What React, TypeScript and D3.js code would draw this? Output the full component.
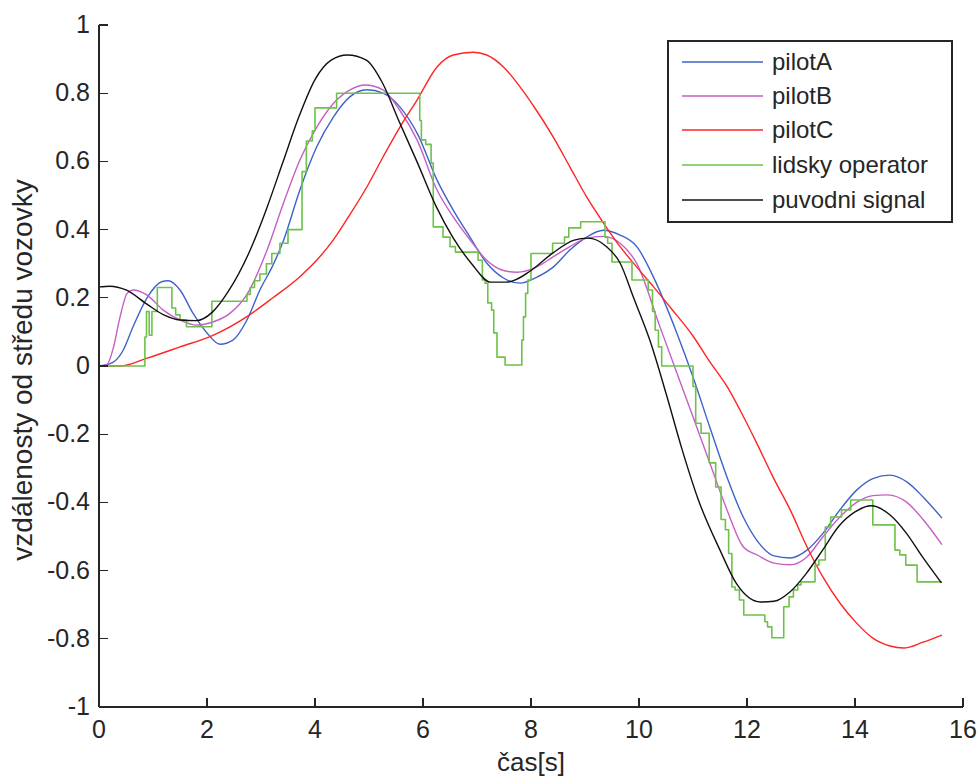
import React from "react";
import * as d3 from "d3";

const xTicks = [0, 2, 4, 6, 8, 10, 12, 14, 16];
const yTicks = [-1, -0.8, -0.6, -0.4, -0.2, 0, 0.2, 0.4, 0.6, 0.8, 1];
const yTickLabels = ["-1", "-0.8", "-0.6", "-0.4", "-0.2", "0", "0.2", "0.4", "0.6", "0.8", "1"];

const seriesNames = ["pilotA", "pilotB", "pilotC", "lidsky operator", "puvodni signal"];
const seriesColors = ["#3f62c8", "#c45fc4", "#ff2424", "#6cc24a", "#111111"];

const pilotA_t = [0, 0.25, 0.45, 0.63, 0.89, 1.16, 1.28, 1.5, 1.74, 2.0, 2.24, 2.48, 2.74, 2.98, 3.22, 3.41, 3.72, 4.03, 4.34, 4.65, 4.96, 5.26, 5.57, 5.9, 6.26, 6.56, 6.87, 7.18, 7.49, 7.8, 8.1, 8.41, 8.72, 9.03, 9.34, 9.65, 9.96, 10.27, 10.7, 11.0, 11.31, 11.63, 11.93, 12.2, 12.5, 12.8, 13.11, 13.41, 13.72, 14.03, 14.33, 14.65, 14.96, 15.26, 15.61];
const pilotA_v = [0, 0.01, 0.047, 0.115, 0.2, 0.247, 0.25, 0.223, 0.155, 0.097, 0.064, 0.076, 0.135, 0.223, 0.295, 0.365, 0.516, 0.642, 0.73, 0.79, 0.81, 0.8, 0.76, 0.68, 0.545, 0.457, 0.378, 0.302, 0.258, 0.243, 0.26, 0.29, 0.34, 0.378, 0.398, 0.384, 0.35, 0.26, 0.097, -0.032, -0.179, -0.326, -0.443, -0.515, -0.557, -0.563, -0.54, -0.49, -0.422, -0.364, -0.33, -0.32, -0.34, -0.384, -0.446];

const pilotB_t = [0, 0.15, 0.27, 0.39, 0.52, 0.63, 0.89, 1.19, 1.5, 1.81, 2.11, 2.43, 2.74, 3.1, 3.41, 3.72, 4.03, 4.34, 4.65, 4.93, 5.26, 5.57, 5.89, 6.26, 6.56, 6.87, 7.18, 7.49, 7.74, 8.1, 8.41, 8.72, 9.03, 9.34, 9.65, 9.96, 10.39, 10.7, 11.0, 11.31, 11.63, 11.93, 12.2, 12.5, 12.8, 13.11, 13.41, 13.72, 14.03, 14.33, 14.6, 14.96, 15.26, 15.61];
const pilotB_v = [0, 0.005, 0.056, 0.144, 0.213, 0.223, 0.208, 0.164, 0.135, 0.12, 0.129, 0.155, 0.21, 0.335, 0.475, 0.604, 0.7, 0.77, 0.81, 0.824, 0.81, 0.75, 0.663, 0.516, 0.437, 0.37, 0.31, 0.28, 0.275, 0.29, 0.32, 0.35, 0.375, 0.38, 0.36, 0.3, 0.114, -0.02, -0.149, -0.284, -0.422, -0.53, -0.555, -0.578, -0.583, -0.56, -0.5, -0.443, -0.4, -0.38, -0.378, -0.4, -0.45, -0.524];

const pilotC_t = [0, 0.4, 0.89, 1.5, 2.11, 2.74, 3.22, 3.72, 4.03, 4.34, 4.65, 4.96, 5.26, 5.57, 5.89, 6.26, 6.56, 6.93, 7.18, 7.49, 7.8, 8.1, 8.41, 8.72, 9.03, 9.34, 9.65, 9.96, 10.27, 10.6, 11.0, 11.3, 11.63, 11.87, 12.18, 12.48, 12.8, 13.11, 13.41, 13.72, 14.03, 14.33, 14.65, 14.9, 15.26, 15.61];
const pilotC_v = [0, 0.0, 0.023, 0.056, 0.09, 0.145, 0.2, 0.262, 0.31, 0.37, 0.445, 0.525, 0.613, 0.7, 0.78, 0.877, 0.912, 0.92, 0.912, 0.877, 0.818, 0.75, 0.672, 0.584, 0.496, 0.42, 0.35, 0.29, 0.232, 0.168, 0.088, 0.015, -0.06, -0.129, -0.226, -0.325, -0.422, -0.53, -0.62, -0.695, -0.754, -0.798, -0.821, -0.827, -0.81, -0.789];

const operator_t = [0, 0.85, 0.88, 0.93, 0.98, 1.08, 1.35, 1.42, 1.5, 1.62, 2.09, 2.74, 2.8, 2.88, 2.98, 3.1, 3.2, 3.35, 3.5, 3.76, 3.84, 3.95, 4.0, 4.4, 5.94, 5.97, 6.05, 6.15, 6.19, 6.37, 6.5, 6.6, 7.02, 7.1, 7.15, 7.2, 7.27, 7.31, 7.37, 7.52, 7.83, 7.86, 7.9, 7.94, 8.0, 8.4, 8.62, 8.7, 8.92, 9.37, 9.42, 9.5, 9.87, 10.17, 10.25, 10.3, 10.36, 10.42, 11.0, 11.05, 11.15, 11.3, 11.42, 11.52, 11.6, 11.66, 11.72, 11.78, 11.86, 11.94, 12.33, 12.38, 12.46, 12.68, 12.78, 12.86, 12.94, 13.0, 13.26, 13.33, 13.45, 13.55, 13.75, 13.92, 14.33, 14.74, 14.83, 14.94, 15.15, 15.61];
const operator_v = [0, 0.085, 0.16, 0.09, 0.16, 0.23, 0.17, 0.15, 0.135, 0.115, 0.19, 0.21, 0.23, 0.25, 0.27, 0.3, 0.33, 0.36, 0.4, 0.57, 0.66, 0.69, 0.757, 0.8, 0.72, 0.663, 0.65, 0.595, 0.408, 0.378, 0.35, 0.334, 0.31, 0.252, 0.243, 0.185, 0.164, 0.097, 0.026, 0.003, 0.076, 0.144, 0.213, 0.252, 0.33, 0.36, 0.378, 0.405, 0.423, 0.378, 0.36, 0.305, 0.252, 0.223, 0.16, 0.105, 0.056, 0.0, -0.06, -0.168, -0.197, -0.284, -0.355, -0.45, -0.48, -0.55, -0.648, -0.657, -0.686, -0.73, -0.75, -0.765, -0.797, -0.706, -0.677, -0.657, -0.642, -0.633, -0.584, -0.569, -0.472, -0.443, -0.422, -0.393, -0.466, -0.54, -0.554, -0.584, -0.633, -0.633];

const signal_t = [0, 0.2, 0.5, 0.9, 1.2, 1.5, 1.8, 2.1, 2.4, 2.8, 3.1, 3.4, 3.7, 4.0, 4.3, 4.6, 4.95, 5.25, 5.55, 5.9, 6.25, 6.55, 6.9, 7.25, 7.55, 8.0, 8.4, 8.8, 9.05, 9.4, 9.65, 9.9, 10.2, 10.5, 10.8, 11.1, 11.5, 11.8, 12.25, 12.5, 12.8, 13.1, 13.4, 13.7, 14.0, 14.3, 14.65, 14.95, 15.25, 15.6];
const signal_v = [0.232, 0.234, 0.223, 0.18, 0.15, 0.135, 0.133, 0.158, 0.22, 0.34, 0.46, 0.595, 0.73, 0.84, 0.897, 0.912, 0.897, 0.83, 0.72, 0.595, 0.466, 0.378, 0.3, 0.246, 0.246, 0.28, 0.331, 0.369, 0.375, 0.35, 0.302, 0.2, 0.076, -0.08, -0.246, -0.393, -0.54, -0.637, -0.692, -0.69, -0.662, -0.608, -0.54, -0.47, -0.428, -0.41, -0.437, -0.49, -0.56, -0.636];

const W = 978;
const H = 776;
const FONT = "'Liberation Sans', Arial, Helvetica, sans-serif";

type Pt = [number, number];
const zip = (t: number[], v: number[]): Pt[] => t.map((tt, i) => [tt, v[i]]);

export default function App() {
  const x = d3.scaleLinear().domain([0, 16]).range([99, 963]);
  const y = d3.scaleLinear().domain([-1, 1]).range([707, 25]);

  const smooth = d3
    .line<Pt>()
    .x((d) => x(d[0]))
    .y((d) => y(d[1]))
    .curve(d3.curveMonotoneX);
  const step = d3
    .line<Pt>()
    .x((d) => x(d[0]))
    .y((d) => y(d[1]))
    .curve(d3.curveStepAfter);

  const paths = [
    { d: smooth(zip(pilotA_t, pilotA_v)), c: seriesColors[0], w: 1.4 },
    { d: smooth(zip(pilotB_t, pilotB_v)), c: seriesColors[1], w: 1.4 },
    { d: smooth(zip(pilotC_t, pilotC_v)), c: seriesColors[2], w: 1.4 },
    { d: step(zip(operator_t, operator_v)), c: seriesColors[3], w: 1.6 },
    { d: smooth(zip(signal_t, signal_v)), c: seriesColors[4], w: 1.4 },
  ];

  const axisColor = "#262626";
  const legX = 668;
  const legY = 41;
  const legW = 284;
  const legH = 181;
  const rowY = [62, 96, 130, 165, 200];

  return (
    <div style={{ position: "absolute", left: 0, top: 0 }}>
      <svg width={W} height={H} style={{ display: "block", background: "#fff" }}>
        <rect x={0} y={0} width={W} height={H} fill="#fff" />
        <g fill="none" strokeLinejoin="round">
          {paths.map((p, i) => (
            <path key={i} d={p.d || ""} stroke={p.c} strokeWidth={p.w} />
          ))}
        </g>
        {/* axes */}
        <g stroke={axisColor} strokeWidth={1.2} fill="none" shapeRendering="crispEdges">
          <line x1={x(0)} x2={x(0)} y1={y(1)} y2={y(-1)} />
          <line x1={x(0)} x2={x(16)} y1={y(-1)} y2={y(-1)} />
          {yTicks.map((t) => (
            <line key={"yt" + t} x1={x(0)} x2={x(0) + 9} y1={y(t)} y2={y(t)} />
          ))}
          {xTicks.map((t) => (
            <line key={"xt" + t} x1={x(t)} x2={x(t)} y1={y(-1)} y2={y(-1) - 9} />
          ))}
        </g>
        <g fontFamily={FONT} fontSize={25} fill="#262626">
          {yTicks.map((t, i) => (
            <text key={"yl" + t} x={x(0) - 9} y={y(t) + 8} textAnchor="end">
              {yTickLabels[i]}
            </text>
          ))}
          {xTicks.map((t) => (
            <text key={"xl" + t} x={x(t)} y={y(-1) + 31} textAnchor="middle">
              {String(t)}
            </text>
          ))}
        </g>
        <text x={(x(0) + x(16)) / 2} y={771} textAnchor="middle" fontFamily={FONT} fontSize={26} fill="#262626">
          čas[s]
        </text>
        <text
          transform={`translate(32, ${(y(1) + y(-1)) / 2 + 4}) rotate(-90)`}
          textAnchor="middle"
          fontFamily={FONT}
          fontSize={28}
          fill="#262626"
        >
          vzdálenosty od středu vozovky
        </text>
        {/* legend */}
        <rect x={legX} y={legY} width={legW} height={legH} fill="#fff" stroke={axisColor} strokeWidth={1.2} shapeRendering="crispEdges" />
        {seriesNames.map((n, i) => (
          <g key={n}>
            <line x1={682} x2={763} y1={rowY[i]} y2={rowY[i]} stroke={seriesColors[i]} strokeWidth={1.4} />
            <text x={772} y={rowY[i] + 8} fontFamily={FONT} fontSize={24} fill="#262626">
              {n}
            </text>
          </g>
        ))}
      </svg>
    </div>
  );
}
